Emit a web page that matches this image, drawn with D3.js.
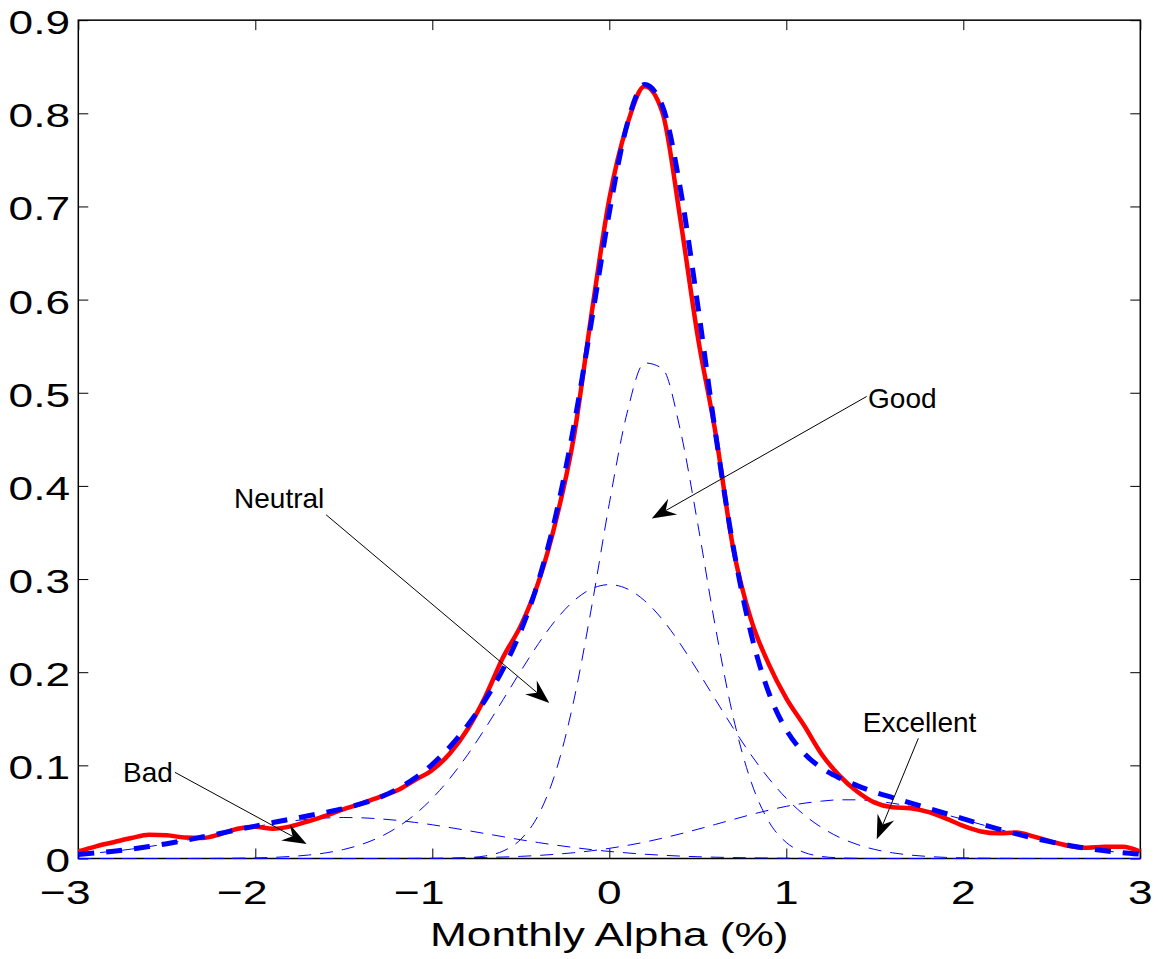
<!DOCTYPE html>
<html>
  <head>
    <meta charset="utf-8">
    <title>Monthly alpha: kernel density and mixture fit</title>
    <script src="https://cdn.jsdelivr.net/npm/d3@7"></script>
    <style>
      body { margin: 0; background: #fff; }
      text { font-family: "Liberation Sans", Arial, Helvetica, sans-serif; fill: #000; }
    </style>
  </head>
  <body>
    <script>
      // grid of monthly alpha values (%)
      var alphaGrid = [-3.0, -2.9, -2.8, -2.7, -2.6, -2.5, -2.4, -2.3, -2.2, -2.1,
        -2.0, -1.9, -1.8, -1.7, -1.6, -1.5, -1.4, -1.3, -1.2, -1.1,
        -1.0, -0.9, -0.8, -0.7, -0.6, -0.5, -0.4, -0.3, -0.2, -0.1,
        0.0, 0.1, 0.2, 0.3, 0.4, 0.5, 0.6, 0.7, 0.8, 0.9,
        1.0, 1.1, 1.2, 1.3, 1.4, 1.5, 1.6, 1.7, 1.8, 1.9,
        2.0, 2.1, 2.2, 2.3, 2.4, 2.5, 2.6, 2.7, 2.8, 2.9, 3.0];

      // empirical (kernel) density, red solid
      var kernelDensity = [0.0075, 0.013, 0.0175, 0.022, 0.0255, 0.025, 0.0225, 0.022, 0.026, 0.032,
        0.034, 0.032, 0.0345, 0.040, 0.046, 0.053, 0.059, 0.066, 0.073, 0.084,
        0.095, 0.113, 0.139, 0.174, 0.216, 0.250, 0.297, 0.364, 0.453, 0.585,
        0.708, 0.787, 0.829, 0.801, 0.688, 0.560, 0.457, 0.333, 0.257, 0.209,
        0.172, 0.143, 0.112, 0.089, 0.072, 0.060, 0.055, 0.054, 0.050, 0.043,
        0.035, 0.029, 0.027, 0.028, 0.0235, 0.018, 0.0135, 0.0115, 0.0125, 0.0125, 0.0075];

      // fitted mixture, thick blue dashed
      var mixtureFit = [0.0044, 0.0060, 0.0078, 0.0101, 0.0128, 0.0159, 0.0193, 0.0230, 0.0269, 0.0309,
        0.0348, 0.0386, 0.0423, 0.0459, 0.0496, 0.0537, 0.0588, 0.0653, 0.0743, 0.0860,
        0.1011, 0.1200, 0.1431, 0.1706, 0.2035, 0.2443, 0.2980, 0.3702, 0.4647, 0.5774,
        0.6935, 0.7876, 0.8309, 0.8079, 0.7207, 0.5936, 0.4565, 0.3349, 0.2423, 0.1785,
        0.1381, 0.1131, 0.0971, 0.0864, 0.0783, 0.0713, 0.0654, 0.0597, 0.0540, 0.0483,
        0.0426, 0.0370, 0.0316, 0.0265, 0.0218, 0.0176, 0.0140, 0.0109, 0.0083, 0.0062, 0.0046];

      // mixture components, thin blue dashed
      var badDensity = [0.0044, 0.0060, 0.0078, 0.0101, 0.0128, 0.0159, 0.0193, 0.0229, 0.0267, 0.0305,
        0.0341, 0.0374, 0.0401, 0.0422, 0.0435, 0.0440, 0.0437, 0.0426, 0.0410, 0.0388,
        0.0362, 0.0332, 0.0300, 0.0267, 0.0234, 0.0201, 0.0171, 0.0143, 0.0118, 0.0095,
        0.0076, 0.0060, 0.0046, 0.0035, 0.0026, 0.0019, 0.0014, 0.0010, 0.0007, 0.0005,
        0.0003, 0.0002, 0.0001, 0, 0, 0, 0, 0, 0, 0,
        0, 0, 0, 0, 0, 0, 0, 0, 0, 0, 0];

      var neutralDensity = [0, 0, 0, 0, 0, 0, 0, 0.0001, 0.0002, 0.0004,
        0.0007, 0.0012, 0.0022, 0.0037, 0.0061, 0.0097, 0.0151, 0.0227, 0.0332, 0.0470,
        0.0646, 0.0862, 0.1115, 0.1400, 0.1705, 0.2013, 0.2307, 0.2566, 0.2767, 0.2896,
        0.2940, 0.2896, 0.2767, 0.2566, 0.2307, 0.2013, 0.1705, 0.1400, 0.1115, 0.0862,
        0.0646, 0.0470, 0.0332, 0.0227, 0.0151, 0.0097, 0.0061, 0.0037, 0.0022, 0.0012,
        0.0007, 0.0004, 0.0002, 0.0001, 0, 0, 0, 0, 0, 0, 0];

      var goodDensity = [0, 0, 0, 0, 0, 0, 0, 0, 0, 0,
        0, 0, 0, 0, 0, 0, 0, 0, 0, 0,
        0, 0.0001, 0.0009, 0.0028, 0.0080, 0.0206, 0.0469, 0.0947, 0.170, 0.270,
        0.381, 0.478, 0.532, 0.526, 0.461, 0.359, 0.248, 0.152, 0.083, 0.040,
        0.0172, 0.0066, 0.0022, 0.0007, 0.0002, 0, 0, 0, 0, 0,
        0, 0, 0, 0, 0, 0, 0, 0, 0, 0, 0];

      var excellentDensity = [0, 0, 0, 0, 0, 0, 0, 0, 0, 0,
        0, 0, 0, 0, 0, 0, 0, 0, 0.0001, 0.0002,
        0.0003, 0.0005, 0.0007, 0.0011, 0.0016, 0.0023, 0.0033, 0.0046, 0.0062, 0.0083,
        0.0109, 0.0140, 0.0176, 0.0218, 0.0264, 0.0314, 0.0366, 0.0419, 0.0471, 0.0518,
        0.0560, 0.0593, 0.0616, 0.0630, 0.0630, 0.0616, 0.0593, 0.0560, 0.0518, 0.0471,
        0.0419, 0.0366, 0.0314, 0.0264, 0.0218, 0.0176, 0.0140, 0.0109, 0.0083, 0.0062, 0.0046];

      // ticks
      var xTicks = [-3, -2, -1, 0, 1, 2, 3];
      var yTicks = [0, 0.1, 0.2, 0.3, 0.4, 0.5, 0.6, 0.7, 0.8, 0.9];
      var xLabel = "Monthly Alpha (%)";

      // callouts: label, text anchor, arrow tail, arrow tip (data units)
      var calloutLabels = ["Good", "Neutral", "Bad", "Excellent"];
      var calloutText = [[1.462, 0.484], [-2.12, 0.376], [-2.747, 0.082], [1.432, 0.136]];
      var calloutTail = [[1.454, 0.496], [-1.60, 0.369], [-2.454, 0.0925], [1.746, 0.129]];
      var calloutTip = [[0.240, 0.365], [-0.339, 0.167], [-1.71, 0.0156], [1.511, 0.0206]];

      var width = 1163, height = 959;
      var plotLeft = 78.3, plotRight = 1140.3, plotTop = 20.15, plotBottom = 858.5;
      var tickLen = 10, stretch = 1.3;

      var svg = d3.select("body").append("svg")
        .attr("width", width)
        .attr("height", height);

      var x = d3.scaleLinear().domain([-3, 3]).range([plotLeft, plotRight]);
      var y = d3.scaleLinear().domain([0, 0.9]).range([plotBottom, plotTop]);

      // inward ticks on all four sides
      function ticks(axis, transform) {
        var g = svg.append("g")
          .attr("transform", transform)
          .call(axis.tickSize(-tickLen).tickFormat(""));
        g.select(".domain").remove();
        g.selectAll("line").attr("stroke", "#000").attr("stroke-width", 1);
      }
      ticks(d3.axisBottom(x).tickValues(xTicks), "translate(0," + plotBottom + ")");
      ticks(d3.axisTop(x).tickValues(xTicks), "translate(0," + plotTop + ")");
      ticks(d3.axisLeft(y).tickValues(yTicks), "translate(" + plotLeft + ",0)");
      ticks(d3.axisRight(y).tickValues(yTicks), "translate(" + plotRight + ",0)");

      // box
      svg.append("rect")
        .attr("x", plotLeft)
        .attr("y", plotTop)
        .attr("width", plotRight - plotLeft)
        .attr("height", plotBottom - plotTop)
        .attr("fill", "none")
        .attr("stroke", "#000")
        .attr("stroke-width", 1.5);

      // tick labels (the axis font is drawn wide, as in the original)
      function minus(v) { return (v < 0 ? "\u2212" : "") + Math.abs(v); }

      svg.append("g").selectAll("text")
        .data(yTicks)
        .enter().append("text")
          .attr("transform", function(d) { return "translate(70," + (y(d) + 2) + ") scale(" + stretch + ",1)"; })
          .attr("text-anchor", "end")
          .attr("dy", "0.35em")
          .style("font-size", "34px")
          .text(function(d) { return d; });

      svg.append("g").selectAll("text")
        .data(xTicks)
        .enter().append("text")
          .attr("transform", function(d) { return "translate(" + (x(d) + (d < 0 ? -13 : 0)) + ",904) scale(" + stretch + ",1)"; })
          .attr("text-anchor", "middle")
          .style("font-size", "34px")
          .text(minus);

      svg.append("text")
        .attr("transform", "translate(" + x(0) + ",946) scale(" + stretch + ",1)")
        .attr("text-anchor", "middle")
        .style("font-size", "34px")
        .text(xLabel);

      // curves
      var line = d3.line()
        .x(function(d) { return x(d[0]); })
        .y(function(d) { return y(d[1]); })
        .curve(d3.curveMonotoneX);

      function pairs(values) { return alphaGrid.map(function(a, i) { return [a, values[i]]; }); }

      [badDensity, neutralDensity, goodDensity, excellentDensity].forEach(function(s) {
        svg.append("path")
          .attr("d", line(pairs(s)))
          .attr("fill", "none")
          .attr("stroke", "#0000ff")
          .attr("stroke-width", 1)
          .attr("stroke-dasharray", "13,9");
      });

      svg.append("path")
        .attr("d", line(pairs(kernelDensity)))
        .attr("fill", "none")
        .attr("stroke", "#ff0000")
        .attr("stroke-width", 4.5)
        .attr("stroke-linejoin", "round");

      svg.append("path")
        .attr("d", line(pairs(mixtureFit)))
        .attr("fill", "none")
        .attr("stroke", "#0000ff")
        .attr("stroke-width", 5)
        .attr("stroke-dasharray", "16,12");

      // text arrows
      var callouts = svg.append("g");
      calloutLabels.forEach(function(label, i) {
        var tx = x(calloutTail[i][0]), ty = y(calloutTail[i][1]),
          hx = x(calloutTip[i][0]), hy = y(calloutTip[i][1]);
        var dx = hx - tx, dy = hy - ty, len = Math.sqrt(dx * dx + dy * dy),
          ux = dx / len, uy = dy / len, nx = -uy, ny = ux;
        var headLen = 24, notch = 16, halfW = 9;

        callouts.append("line")
          .attr("x1", tx).attr("y1", ty)
          .attr("x2", hx - ux * notch).attr("y2", hy - uy * notch)
          .attr("stroke", "#000")
          .attr("stroke-width", 1);

        callouts.append("path")
          .attr("d", "M" + hx + "," + hy +
            "L" + (hx - ux * headLen + nx * halfW) + "," + (hy - uy * headLen + ny * halfW) +
            "L" + (hx - ux * notch) + "," + (hy - uy * notch) +
            "L" + (hx - ux * headLen - nx * halfW) + "," + (hy - uy * headLen - ny * halfW) + "Z")
          .attr("fill", "#000");

        callouts.append("text")
          .attr("x", x(calloutText[i][0]))
          .attr("y", y(calloutText[i][1]))
          .style("font-size", "28px")
          .text(label);
      });
    </script>
  </body>
</html>
